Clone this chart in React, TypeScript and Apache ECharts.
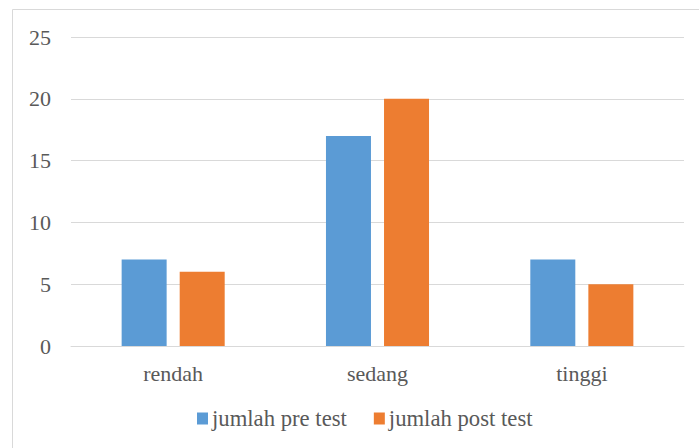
import React, { useEffect, useRef } from "react";
import * as echarts from "echarts";

const categories = ["rendah", "sedang", "tinggi"];
const preTest = [7, 17, 7];
const postTest = [6, 20, 5];
const seriesNames = ["jumlah pre test", "jumlah post test"];

export default function App() {
  const ref = useRef<HTMLDivElement>(null);
  useEffect(() => {
    const chart = echarts.init(ref.current!, null, { renderer: "svg" });
    const font = "Liberation Serif";
    const txt = { fontFamily: font, fontSize: 22, color: "#595959" };
    chart.setOption({
      animation: false,
      textStyle: { fontFamily: font },
      graphic: [
        {
          type: "rect",
          shape: { x: 12.5, y: 9.5, width: 720, height: 470 },
          style: { fill: "none", stroke: "#D9D9D9", lineWidth: 1 },
          silent: true,
        },
      ],
      grid: { left: 71, right: 15, top: 37, bottom: 102, containLabel: false },
      legend: {
        top: 407,
        left: 197,
        padding: 0,
        itemWidth: 11,
        itemHeight: 12,
        itemGap: 27,
        icon: "rect",
        textStyle: { ...txt, fontSize: 22.7, padding: [0, 0, 0, -1] },
        data: seriesNames,
      },
      xAxis: {
        type: "category",
        data: categories,
        axisLine: { lineStyle: { color: "#D9D9D9", width: 1 } },
        axisTick: { show: false },
        axisLabel: { ...txt, margin: 16 },
      },
      yAxis: {
        type: "value",
        min: 0,
        max: 25,
        interval: 5,
        axisLine: { show: false },
        axisTick: { show: false },
        splitLine: { lineStyle: { color: "#D9D9D9", width: 1 } },
        axisLabel: { ...txt, margin: 20 },
      },
      series: [
        {
          name: seriesNames[0],
          type: "bar",
          data: preTest,
          barWidth: 45,
          barGap: "29%",
          itemStyle: { color: "#5B9BD5" },
        },
        {
          name: seriesNames[1],
          type: "bar",
          data: postTest,
          barWidth: 45,
          itemStyle: { color: "#ED7D31" },
        },
      ],
    });
    return () => chart.dispose();
  }, []);
  return (
    <div
      ref={ref}
      style={{ position: "fixed", left: 0, top: 0, width: 699, height: 448, background: "#fff" }}
    />
  );
}
